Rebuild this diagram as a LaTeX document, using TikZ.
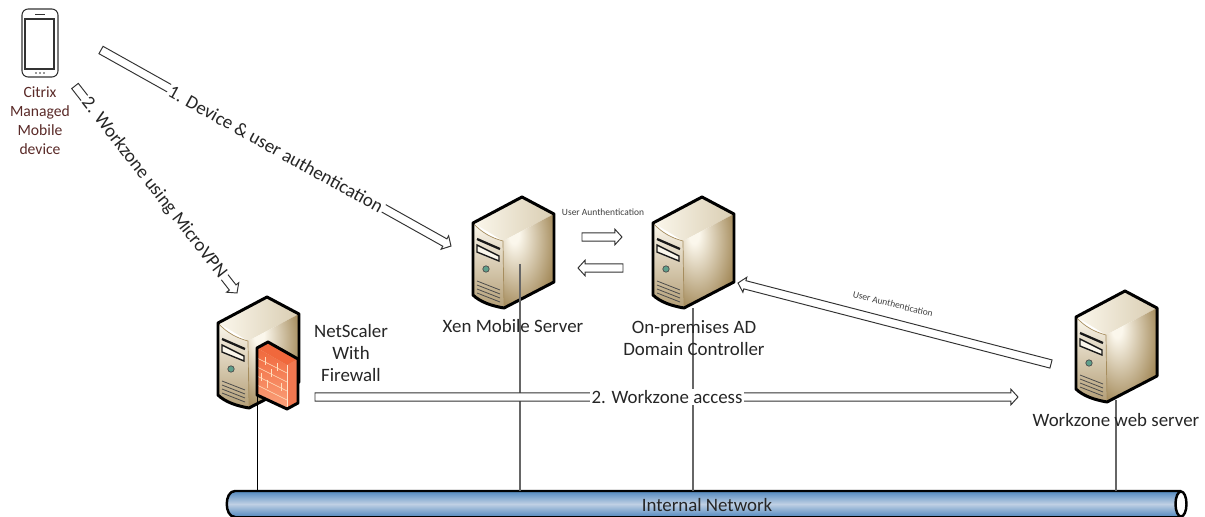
\documentclass[tikz,border=0pt]{standalone}
\usepackage{fontspec}
\setmainfont{Carlito}
\usetikzlibrary{calc}
\definecolor{devicered}{HTML}{5A2A28}
\definecolor{tanedge}{HTML}{A68D5E}
\definecolor{tanface}{HTML}{D9CDB2}
\definecolor{creamface}{HTML}{FBF7EC}
\definecolor{tubeblue}{HTML}{5288BE}
\definecolor{tubelight}{HTML}{BFD0E4}
\definecolor{brickred}{HTML}{F0683C}
\definecolor{bricklight}{HTML}{FBA27C}
\definecolor{ledgreen}{HTML}{5FA08C}
\pgfdeclareradialshading{serverglow}{\pgfpoint{-15bp}{15bp}}{
  color(0bp)=(creamface); color(5bp)=(creamface); color(36bp)=(tanedge); color(100bp)=(tanedge)}
\tikzset{
  lbl/.style={font=\fontsize{10.75}{12.8}\selectfont, align=center, text=black!85, inner sep=1pt},
  tinylbl/.style={font=\fontsize{5.4}{6.5}\selectfont, text=black!75, inner sep=0pt},
  netline/.style={draw=black!60, line width=0.7pt},
  blockarrow/.style={draw=black!80, line width=0.55pt, fill=white, line join=miter,
    to path={let \p1=($(\tikztotarget)-(\tikztostart)$), \n1={atan2(\y1,\x1)}, \n2={veclen(\x1,\y1)} in
      ++(\n1+90:2.4pt) -- ++(\n1:\n2-4pt) -- ++(\n1+90:2pt) -- (\tikztotarget)
      -- ($(\tikztostart)+(\n1:\n2-4pt)+(\n1-90:4.4pt)$) -- ++(\n1+90:2pt)
      -- ($(\tikztostart)+(\n1-90:2.4pt)$) -- cycle}},
  server/.pic={
    % top, right and front faces
    \shade[left color=creamface, right color=tanface] (0,0) -- (32,17) -- (-19,44) .. controls (-30,37) and (-40,31) .. (-49,26) -- cycle;
    \shade[shading=serverglow] (-19,44) -- (32,17) -- (32,85) -- (-18,111) -- cycle;
    \shade[top color=creamface, bottom color=tanedge!85] (-49,26) .. controls (-40,36) and (-30,41) .. (-19,44) -- (-18,111) .. controls (-30,109) and (-42,105) .. (-49,98) -- cycle;
    \draw[tanedge, line width=0.4pt] (-49,26) .. controls (-40,36) and (-30,41) .. (-19,44) -- (-18,111);
    % disk slots
    \draw[line width=1.3pt, black!90] (-45,42) -- (-22,52);
    \draw[fill=creamface, draw=black!90, line width=0.8pt] (-45,48) -- (-23,59) -- (-23,64) -- (-45,55) -- cycle;
    \draw[fill=ledgreen, draw=black!70, line width=0.4pt] (-36,72) circle (3.2);
    % vents
    \foreach \v in {84,88,92,96}
      \draw[black!70, line width=0.45pt] (-45,\v) -- (-22,\v+9);
    \draw[line width=1.7pt, line join=round] (0,0) -- (32,17) -- (32,85) -- (-18,111) .. controls (-30,109) and (-42,105) .. (-49,98) -- (-49,26) -- cycle;
  },
  firewall/.pic={
    \fill[brickred] (0,0) -- (11,-6) -- (41,11) -- (30,17) -- cycle;
    \shade[top color=brickred, bottom color=bricklight] (0,0) -- (30,17) -- (30,61) -- (0,47) -- cycle;
    \fill[brickred!90!white] (30,17) -- (41,11) -- (41,55) -- (30,61) -- cycle;
    % bricks
    \foreach \b in {10,19,28,37}
      \draw[white!75!orange, line width=0.35pt] (0,\b) -- (30,\b+15);
    \foreach \b/\c in {8/9,20/15,14/21,4/25,24/35,10/32}
      \draw[white!75!orange, line width=0.35pt] (\b,\c) -- (\b,\c+8);
    \draw[white!80!orange, line width=0.5pt] (30,17) -- (30,61);
    \draw[line width=1.7pt, line join=round] (0,47) -- (0,0) -- (11,-6) -- (41,11) -- (41,55) -- (30,61) -- cycle;
  }
}
\begin{document}
\begin{tikzpicture}[x=0.02cm,y=-0.02cm]
\useasboundingbox (0,0) rectangle (1205,517);

% Server positions (top corner of each case)
\coordinate (netscaler) at (267,297);
\coordinate (xen) at (522,197);
\coordinate (adc) at (702,197);
\coordinate (web) at (1125,291);

% Network tube
\shade[top color=tubeblue, bottom color=tubeblue, middle color=tubelight] (235,491) -- (1181,491) -- (1181,517) -- (235,517) .. controls (224,517) and (224,491) .. (235,491);
\draw[line width=1.4pt] (235,517) .. controls (224,517) and (224,491) .. (235,491) -- (1181,491);
\draw[line width=1.4pt] (235,517) -- (1181,517);
\draw[line width=1.4pt, fill=white] (1181,504) ellipse (5.5 and 12.5);
\node[lbl] (net) at (707,505) {Internal Network};

% Links down to the tube
\coordinate (nsbase) at (257,395);
\coordinate (xenbase) at (520,264);
\coordinate (adcbase) at (693,308);
\coordinate (webbase) at (1116,400);
\coordinate (nstap) at (257,491);
\coordinate (xentap) at (520,491);
\coordinate (adctap) at (693,491);
\coordinate (webtap) at (1116,491);

% Phone
\draw[black!80, line width=0.6pt, rounded corners=3.5pt] (22,9) rectangle (58,77);
\draw[black!80, line width=0.6pt] (25,19) rectangle (54,69);
\draw[black!80, line width=0.8pt] (35,14.5) -- (45,14.5);
\foreach \d in {36,40,44}
  \fill[black!80] (\d,73) circle (0.9);
\node[lbl, text=devicered, font=\fontsize{8.9}{10.9}\selectfont] (device) at (40,120.5) {Citrix\\Managed\\Mobile\\device};

% Servers
\pic at (netscaler) {server};
\pic at ($(netscaler)+(-10,51)$) {firewall};
\pic at (xen) {server};
\pic at (adc) {server};
\pic at (web) {server};

\draw[line width=0.55pt] (nsbase) -- (nstap);
\draw[netline] (xenbase) -- (xentap);
\draw[netline] (adcbase) -- (adctap);
\draw[netline] (webbase) -- (webtap);

\node[lbl] (xenlbl) at (513,326) {Xen Mobile Server};
\node[lbl] (adclbl) at (694,338) {On-premises AD\\Domain Controller};
\node[lbl] (weblbl) at (1116,420) {Workzone web server};
\node[lbl] (nslbl) at (351,353) {NetScaler\\With\\Firewall};

% Block arrows
\coordinate (a1s) at (101,50);
\coordinate (a1e) at (451,246);
\coordinate (a2s) at (75,86);
\coordinate (a2e) at (237,293);
\coordinate (a3s) at (315,397);
\coordinate (a3e) at (1018,397);
\coordinate (a4s) at (1051,364);
\coordinate (a4e) at (738,283);
\coordinate (a5s) at (582,237);
\coordinate (a5e) at (622,237);
\coordinate (a6s) at (623,268);
\coordinate (a6e) at (578,268);
\draw[blockarrow] (a1s) to (a1e);
\draw[blockarrow] (a2s) to (a2e);
\draw[blockarrow] (a3s) to (a3e);
\draw[blockarrow] (a4s) to (a4e);
\draw[blockarrow] (a5s) to (a5e);
\draw[blockarrow] (a6s) to (a6e);

\node[lbl, fill=white, rotate=-29] (authlbl) at (276,149) {1. Device \& user authentication};
\node[lbl, fill=white, rotate=-52] (vpnlbl) at (154,188) {2. Workzone using MicroVPN};
\node[lbl, fill=white] (accesslbl) at (667,397) {2. Workzone access};
\node[tinylbl] (userlbl) at (603,212) {User Aunthentication};
\node[tinylbl, rotate=-14] (userlbl2) at (893,304) {User Aunthentication};
\end{tikzpicture}
\end{document}
